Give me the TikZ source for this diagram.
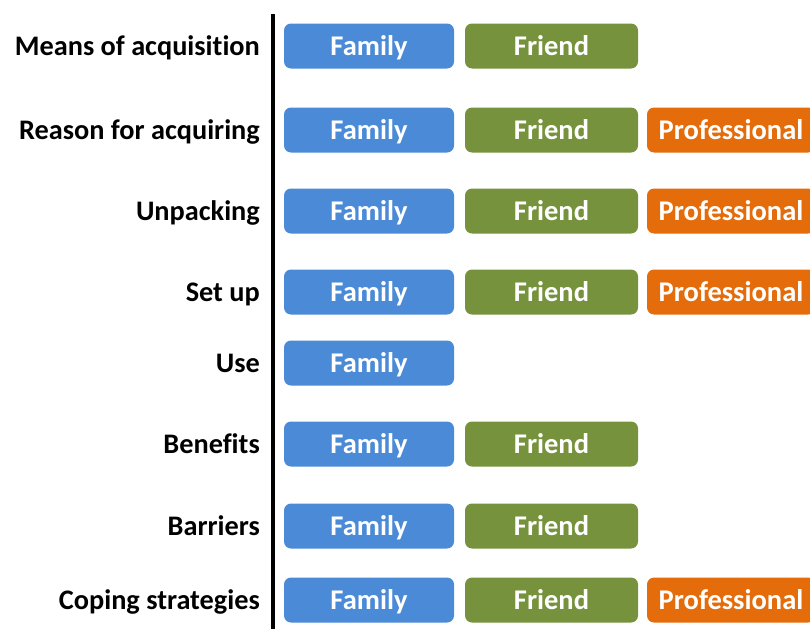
\documentclass[tikz,border=0pt]{standalone}
\usepackage{fontspec}
\setmainfont[Ligatures=NoCommon]{Carlito}
\definecolor{famblue}{HTML}{4A8AD6}
\definecolor{frgreen}{HTML}{76923C}
\definecolor{proorange}{HTML}{E46C0A}
\begin{document}
\begin{tikzpicture}[x=1pt,y=-1pt,
  lab/.style={anchor=base east,inner sep=0pt,font=\fontsize{28.3}{30}\selectfont\bfseries},
  tag/.style={rounded corners=7pt,minimum height=45pt,inner sep=0pt,text height=22pt,text depth=3pt,text=white,font=\fontsize{28.5}{30}\selectfont\bfseries},
  fam/.style={tag,fill=famblue,minimum width=170pt},
  fri/.style={tag,fill=frgreen,minimum width=173pt},
  pro/.style={tag,fill=proorange,minimum width=168pt}]
\useasboundingbox (0,0) rectangle (810,629);
\coordinate (top) at (273,14);
\coordinate (bot) at (273,629);
\draw[line width=4pt] (top) -- (bot);
% rows
\foreach \n/\y/\t/\k in {1/46/Means of acquisition/2, 2/130/Reason for acquiring/3, 3/211/Unpacking/3, 4/292/Set up/3, 5/363/Use/1, 6/444/Benefits/2, 7/526/Barriers/2, 8/600/Coping strategies/3}{
  \node[lab] (l\n) at (260,\y+9.5) {\t};
  \node[fam] (fa\n) at (369,\y) {Family};
  \ifnum\k>1 \node[fri] (fr\n) at (551.5,\y) {Friend};\fi
  \ifnum\k>2 \node[pro] (pr\n) at (731,\y) {Professional};\fi
}
\end{tikzpicture}
\end{document}
